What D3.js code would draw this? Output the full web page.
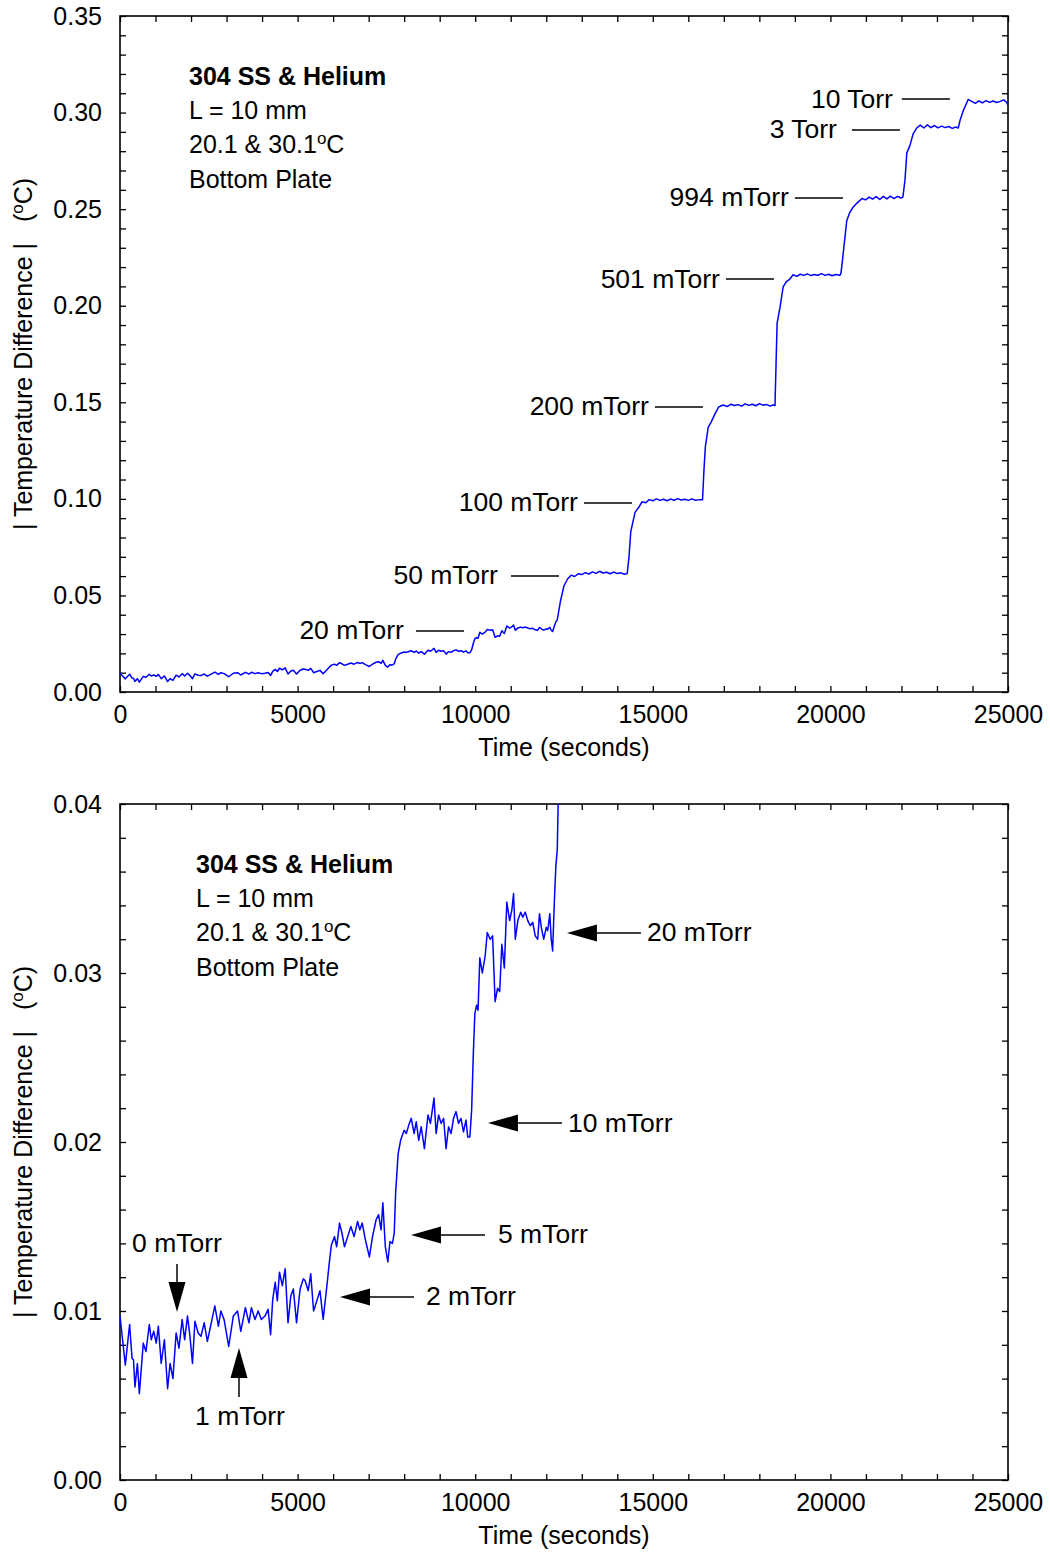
<!DOCTYPE html>
<html><head><meta charset="utf-8">
<script src="https://cdn.jsdelivr.net/npm/d3@7"></script>
<style>
body{margin:0;background:#fff;}
svg text{font-family:"Liberation Sans",Arial,Helvetica,sans-serif;fill:#000;}
</style></head>
<body><svg id="c" width="1050" height="1552"></svg>
<script>
// ---- data ----
const timeSec = [0,150,270,340,380,420,490,545,655,730,825,880,950,1020,1080,1160,1250,1340,1410,1490,1580,1660,1750,1820,1900,1970,2040,2110,2200,2280,2370,2460,2580,2670,2770,2840,2930,3060,3190,3310,3400,3530,3630,3700,3800,3890,3980,4080,4170,4240,4300,4370,4430,4490,4570,4650,4730,4810,4880,4970,5070,5160,5210,5300,5370,5450,5540,5630,5720,5820,5890,5950,6040,6100,6180,6250,6320,6410,6500,6590,6690,6750,6820,6910,7020,7110,7210,7280,7350,7400,7470,7540,7600,7670,7720,7760,7830,7900,8000,8060,8130,8200,8280,8340,8410,8480,8570,8670,8740,8840,8900,8970,9040,9110,9180,9250,9320,9390,9460,9530,9600,9670,9740,9790,9850,9900,9950,9990,10040,10080,10130,10200,10280,10340,10420,10490,10560,10630,10690,10750,10820,10890,10970,11030,11080,11130,11200,11280,11340,11410,11480,11550,11620,11690,11760,11810,11870,11930,12000,12040,12100,12140,12180,12230,12270,12310,12400,12500,12600,12700,12800,12900,13000,13100,13200,13300,13400,13500,13600,13700,13800,13900,14000,14100,14200,14280,14330,14380,14500,14600,14700,14800,14900,15000,15100,15200,15300,15400,15500,15600,15700,15800,15900,16000,16100,16200,16330,16400,16440,16480,16560,16650,16750,16850,16970,17100,17200,17300,17400,17500,17600,17700,17800,17900,18000,18100,18200,18300,18400,18440,18470,18500,18580,18670,18760,18860,18950,19050,19150,19250,19350,19450,19550,19650,19750,19850,19950,20050,20150,20270,20300,20360,20460,20550,20640,20740,20890,20990,21090,21190,21290,21390,21490,21590,21690,21790,21890,21990,22040,22100,22150,22240,22330,22430,22530,22630,22730,22830,22930,23030,23130,23230,23330,23430,23530,23600,23650,23740,23880,23980,24080,24180,24280,24380,24480,24580,24680,24780,24880,24950,25000];
const tempDiff = [0.0097,0.0068,0.0092,0.0072,0.0071,0.0055,0.0069,0.0051,0.0081,0.0076,0.0092,0.0083,0.0088,0.0081,0.0091,0.0069,0.0083,0.0054,0.0069,0.0060,0.0087,0.0078,0.0095,0.0083,0.0097,0.0085,0.0069,0.0094,0.0087,0.0085,0.0093,0.0082,0.0094,0.0103,0.0091,0.0100,0.0095,0.0079,0.0097,0.0100,0.0088,0.0102,0.0093,0.0102,0.0095,0.0100,0.0095,0.0097,0.0101,0.0086,0.0107,0.0117,0.0106,0.0123,0.0115,0.0125,0.0093,0.0109,0.0113,0.0093,0.0113,0.0119,0.0118,0.0112,0.0122,0.0100,0.0106,0.0112,0.0095,0.0114,0.0128,0.0139,0.0144,0.0138,0.0152,0.0146,0.0138,0.0144,0.0150,0.0144,0.0153,0.0148,0.0152,0.0142,0.0132,0.0144,0.0154,0.0157,0.0148,0.0164,0.0138,0.0129,0.0141,0.0140,0.0146,0.0170,0.0193,0.0201,0.0207,0.0205,0.0210,0.0214,0.0205,0.0212,0.0201,0.0209,0.0196,0.0216,0.0211,0.0226,0.0205,0.0216,0.0211,0.0214,0.0196,0.0209,0.0205,0.0214,0.0218,0.0211,0.0214,0.0206,0.0213,0.0203,0.0203,0.0219,0.0254,0.0276,0.0281,0.0278,0.0309,0.0300,0.0310,0.0324,0.0320,0.0322,0.0283,0.0291,0.0289,0.0317,0.0303,0.0342,0.0331,0.0337,0.0347,0.0320,0.0331,0.0336,0.0333,0.0336,0.0331,0.0328,0.0330,0.0322,0.0320,0.0335,0.0326,0.0320,0.0327,0.0325,0.0335,0.0320,0.0313,0.0343,0.0363,0.0373,0.0470,0.0550,0.0585,0.0605,0.0598,0.0612,0.0608,0.0618,0.0611,0.0622,0.0614,0.0625,0.0616,0.0620,0.0612,0.0621,0.0613,0.0617,0.0610,0.0614,0.0700,0.0830,0.0930,0.0955,0.0985,0.0980,0.0996,0.0990,0.1000,0.0992,0.0998,0.0990,0.0999,0.0993,0.1001,0.0994,0.0998,0.0992,0.1000,0.0993,0.0996,0.0995,0.1150,0.1270,0.1370,0.1400,0.1440,0.1475,0.1486,0.1478,0.1490,0.1483,0.1488,0.1480,0.1492,0.1484,0.1490,0.1482,0.1493,0.1485,0.1489,0.1480,0.1487,0.1483,0.1700,0.1910,0.1990,0.2097,0.2125,0.2138,0.2160,0.2152,0.2163,0.2157,0.2165,0.2156,0.2162,0.2158,0.2166,0.2157,0.2163,0.2155,0.2162,0.2158,0.2170,0.2270,0.2440,0.2485,0.2510,0.2530,0.2555,0.2548,0.2562,0.2552,0.2565,0.2550,0.2566,0.2553,0.2567,0.2555,0.2566,0.2558,0.2562,0.2650,0.2790,0.2830,0.2890,0.2920,0.2935,0.2920,0.2937,0.2922,0.2933,0.2921,0.2930,0.2922,0.2928,0.2918,0.2925,0.2920,0.2960,0.3010,0.3068,0.3058,0.3048,0.3060,0.3050,0.3062,0.3053,0.3060,0.3052,0.3058,0.3066,0.3055,0.3040];

const xTickLabels = ["0","5000","10000","15000","20000","25000"];
const topYTickLabels = ["0.00","0.05","0.10","0.15","0.20","0.25","0.30","0.35"];
const bottomYTickLabels = ["0.00","0.01","0.02","0.03","0.04"];
const infoLines = ["304 SS & Helium","L = 10 mm","20.1 & 30.1","Bottom Plate"];
const xTitle = "Time (seconds)";
const yTitle = "| Temperature Difference |\u00a0\u00a0\u00a0(";

// top chart labelled pressure lines: label, line start/end time, level
const topNotes = [
  {label:"10 Torr",  t0:22013, t1:23365, v:0.3070, gap:9},
  {label:"3 Torr",   t0:20606, t1:21957, v:0.2910, gap:15},
  {label:"994 mTorr",t0:19001, t1:20352, v:0.2558, gap:6},
  {label:"501 mTorr",t0:17059, t1:18410, v:0.2138, gap:6},
  {label:"200 mTorr",t0:15060, t1:16411, v:0.1476, gap:6},
  {label:"100 mTorr",t0:13062, t1:14413, v:0.0979, gap:6},
  {label:"50 mTorr", t0:11007, t1:12358, v:0.0601, gap:13},
  {label:"20 mTorr", t0:8332,  t1:9684,  v:0.0316, gap:12}
];
// bottom chart arrows: label, tip time, tip value, direction
const bottomArrows = [
  {label:"20 mTorr", t:12583, v:0.03237, dir:"left", gap:6},
  {label:"10 mTorr", t:10359, v:0.02112, dir:"left", gap:6},
  {label:"5 mTorr",  t:8192,  v:0.01450, dir:"left", gap:13},
  {label:"2 mTorr",  t:6193,  v:0.01083, dir:"left", gap:12},
  {label:"0 mTorr",  t:1605,  v:0.00994, dir:"down"},
  {label:"1 mTorr",  t:3350,  v:0.00781, dir:"up"}
];

const series = timeSec.map((t,i)=>({t, v:tempDiff[i]}));
const svg = d3.select("#c");
const FS = 25;     // ticks, titles, info block
const FA = 26.5;   // pressure labels
const L = 120, R = 1008;

function drawPanel(top, bottom, yMax, yMinorStep, yLabels, panelId) {
  const x = d3.scaleLinear().domain([0,25000]).range([L,R]);
  const y = d3.scaleLinear().domain([0,yMax]).range([bottom,top]);
  const g = svg.append("g");

  const clipId = "clip"+panelId;
  g.append("clipPath").attr("id",clipId).append("rect")
    .attr("x",L).attr("y",top).attr("width",R-L).attr("height",bottom-top);

  const xt = d3.range(0,26).map(i=>i*1000);
  const nY = Math.round(yMax/yMinorStep);
  const yt = d3.range(0,nY+1).map(i=>i*yMinorStep);
  const yLabVals = yLabels.map(s=>+s);
  const isLab = (d)=> yLabVals.some(v=>Math.abs(v-d)<1e-9);
  const tl = 6;

  const ax1 = g.append("g").attr("transform",`translate(0,${bottom})`)
    .call(d3.axisBottom(x).tickValues(xt).tickSize(-tl).tickPadding(13)
      .tickFormat(d=> xTickLabels.includes(String(d)) ? String(d) : ""));
  const ax2 = g.append("g").attr("transform",`translate(0,${top})`)
    .call(d3.axisTop(x).tickValues(xt).tickSize(-tl).tickFormat(""));
  const ax3 = g.append("g").attr("transform",`translate(${L},0)`)
    .call(d3.axisLeft(y).tickValues(yt).tickSize(-tl).tickPadding(18)
      .tickFormat(d=> isLab(d) ? d3.format(".2f")(d) : ""));
  const ax4 = g.append("g").attr("transform",`translate(${R},0)`)
    .call(d3.axisRight(y).tickValues(yt).tickSize(-tl).tickFormat(""));
  [ax1,ax2,ax3,ax4].forEach(a=>{
    a.select(".domain").remove();
    a.selectAll("line").attr("stroke","#000").attr("stroke-width",1.3);
    a.selectAll("text").attr("font-size",FS).attr("font-family","Liberation Sans, Arial, sans-serif").attr("fill","#000");
  });

  g.append("rect").attr("x",L).attr("y",top).attr("width",R-L).attr("height",bottom-top)
    .attr("fill","none").attr("stroke","#000").attr("stroke-width",1.6);

  g.append("path").datum(series)
    .attr("clip-path",`url(#${clipId})`)
    .attr("fill","none").attr("stroke","#0000ff").attr("stroke-width",1.5)
    .attr("stroke-linejoin","round")
    .attr("d", d3.line().x(d=>x(d.t)).y(d=>y(d.v)));

  // titles
  g.append("text").attr("x",(L+R)/2).attr("y",bottom+64).attr("text-anchor","middle")
    .attr("font-size",FS).text(xTitle);
  const yt2 = g.append("text").attr("transform",`translate(32,${(top+bottom)/2}) rotate(-90)`)
    .attr("text-anchor","middle").attr("font-size",FS);
  yt2.append("tspan").text(yTitle);
  yt2.append("tspan").attr("font-size",17).attr("dy",-9).text("o");
  yt2.append("tspan").attr("dy",9).text("C)");

  // info block
  const infoX = panelId===1 ? 189 : 196;
  infoLines.forEach((s,i)=>{
    const t = g.append("text").attr("x",infoX).attr("y",top+69+i*34.2).attr("font-size",FS);
    if(i===0) t.attr("font-weight","bold");
    t.append("tspan").text(s);
    if(i===2){
      t.append("tspan").attr("font-size",17).attr("dy",-9).text("o");
      t.append("tspan").attr("dy",9).text("C");
    }
  });
  return {x,y,g};
}

// top panel
const p1 = drawPanel(16, 692, 0.35, 0.01, topYTickLabels, 1);
topNotes.forEach(n=>{
  const yy = p1.y(n.v);
  p1.g.append("line").attr("x1",p1.x(n.t0)).attr("x2",p1.x(n.t1)).attr("y1",yy).attr("y2",yy)
    .attr("stroke","#000").attr("stroke-width",1.5);
  p1.g.append("text").attr("x",p1.x(n.t0)-n.gap).attr("y",yy+8.5).attr("text-anchor","end")
    .attr("font-size",FA).text(n.label);
});

// bottom panel
const p2 = drawPanel(804, 1480, 0.04, 0.002, bottomYTickLabels, 2);
bottomArrows.forEach(a=>{
  const tx = p2.x(a.t), ty = p2.y(a.v);
  const hl = 30, hw = 8.5;
  if(a.dir==="left"){
    p2.g.append("path").attr("d",`M${tx},${ty}L${tx+hl},${ty-hw}L${tx+hl},${ty+hw}Z`).attr("fill","#000");
    p2.g.append("line").attr("x1",tx+hl).attr("x2",tx+hl+44).attr("y1",ty).attr("y2",ty)
      .attr("stroke","#000").attr("stroke-width",1.5);
    p2.g.append("text").attr("x",tx+hl+44+a.gap).attr("y",ty+8.5).attr("font-size",FA).text(a.label);
  } else if(a.dir==="down"){
    p2.g.append("path").attr("d",`M${tx},${ty}L${tx-hw},${ty-hl}L${tx+hw},${ty-hl}Z`).attr("fill","#000");
    p2.g.append("line").attr("x1",tx).attr("x2",tx).attr("y1",ty-hl).attr("y2",ty-hl-18)
      .attr("stroke","#000").attr("stroke-width",1.5);
    p2.g.append("text").attr("x",tx).attr("y",ty-hl-18-12).attr("text-anchor","middle").attr("font-size",FA).text(a.label);
  } else {
    p2.g.append("path").attr("d",`M${tx},${ty}L${tx-hw},${ty+hl}L${tx+hw},${ty+hl}Z`).attr("fill","#000");
    p2.g.append("line").attr("x1",tx).attr("x2",tx).attr("y1",ty+hl).attr("y2",ty+hl+19)
      .attr("stroke","#000").attr("stroke-width",1.5);
    p2.g.append("text").attr("x",tx+1).attr("y",ty+hl+19+28).attr("text-anchor","middle").attr("font-size",FA).text(a.label);
  }
});
</script></body></html>
